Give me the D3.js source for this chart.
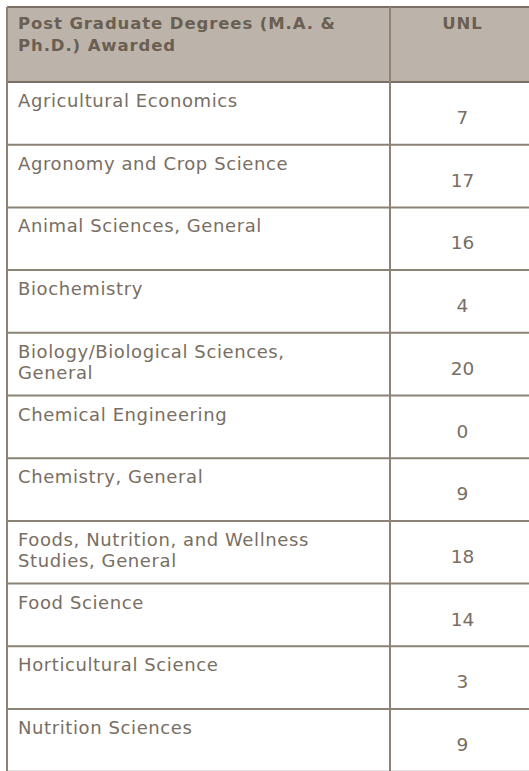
<!DOCTYPE html>
<html><head><meta charset="utf-8">
<script src="https://cdn.jsdelivr.net/npm/d3@7"></script>
<style>
html,body{margin:0;padding:0;background:#fff;overflow:hidden;}
svg{display:block;}
</style></head>
<body>
<script>
const headerLines = ["Post Graduate Degrees (M.A. &", "Ph.D.) Awarded"];
const valueHeader = "UNL";
const categories = [
  "Agricultural Economics",
  "Agronomy and Crop Science",
  "Animal Sciences, General",
  "Biochemistry",
  "Biology/Biological Sciences,\nGeneral",
  "Chemical Engineering",
  "Chemistry, General",
  "Foods, Nutrition, and Wellness\nStudies, General",
  "Food Science",
  "Horticultural Science",
  "Nutrition Sciences"
];
const values = [7, 17, 16, 4, 20, 0, 9, 18, 14, 3, 9];

(function() {
const W = 529, H = 771;
const tLeft = 7, tTop = 7, headerBottom = 82, colX = 390, tRight = 535;
const rowH = 62.7;
const font = "'DejaVu Sans', sans-serif";
const lineColor = "#8c8276";
const textColor = "#786e63";

const svg = d3.select("body").append("svg").attr("width", W).attr("height", H);

const y = d3.scaleBand().domain(categories).range([headerBottom, headerBottom + rowH * categories.length]).padding(0);

// header
svg.append("rect").attr("x", tLeft).attr("y", tTop).attr("width", tRight - tLeft).attr("height", headerBottom - tTop).attr("fill", "#bcb4aa");
svg.append("line").attr("x1", tLeft).attr("x2", tRight).attr("y1", tTop).attr("y2", tTop).attr("stroke", "#7a6f62").attr("stroke-width", 2);

const ht = svg.append("text").attr("fill", "#6a5f52")
  .attr("font-family", font).attr("font-weight", "bold").attr("font-size", 16.5).attr("letter-spacing", 0.9);
headerLines.forEach((l, i) => ht.append("tspan").attr("x", 18).attr("y", 29 + i * 22).text(l));
svg.append("text").attr("x", (colX + tRight) / 2).attr("y", 29).attr("text-anchor", "middle")
  .attr("fill", "#6a5f52").attr("font-family", font).attr("font-weight", "bold").attr("font-size", 16.5).attr("letter-spacing", 0.9).text(valueHeader);

// rows
const rows = svg.selectAll("g.row").data(categories.map((c, i) => ({c, v: values[i]})))
  .join("g").attr("class", "row").attr("transform", d => `translate(0,${y(d.c)})`);

rows.append("line").attr("x1", tLeft).attr("x2", tRight).attr("y1", y.bandwidth()).attr("y2", y.bandwidth())
  .attr("stroke", lineColor).attr("stroke-width", 2);

rows.each(function(d) {
  const t = d3.select(this).append("text").attr("fill", textColor).attr("font-family", font)
    .attr("font-size", 18).attr("letter-spacing", 0.6);
  d.c.split("\n").forEach((l, i) => t.append("tspan").attr("x", 18).attr("y", 25 + i * 21).text(l));
});

rows.append("text").attr("x", (colX + tRight) / 2).attr("y", 42).attr("text-anchor", "middle")
  .attr("fill", textColor).attr("font-family", font).attr("font-size", 18.5).text(d => d.v);

svg.append("line").attr("x1", tLeft).attr("x2", tRight).attr("y1", headerBottom).attr("y2", headerBottom)
  .attr("stroke", "#7a6f62").attr("stroke-width", 2);

[tLeft, colX].forEach(xx => svg.append("line").attr("x1", xx).attr("x2", xx).attr("y1", tTop).attr("y2", H)
  .attr("stroke", lineColor).attr("stroke-width", 2));
})();
</script>
</body></html>
